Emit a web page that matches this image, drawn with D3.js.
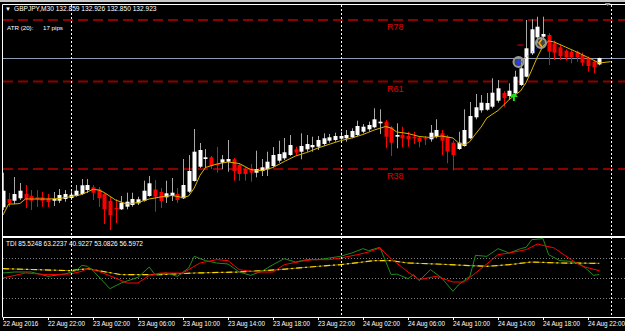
<!DOCTYPE html>
<html>
<head>
<meta charset="utf-8">
<script src="https://cdn.jsdelivr.net/npm/d3@7"></script>
<style>
body{margin:0;background:#000;}
svg{display:block;}
text{font-family:"Liberation Sans",Arial,sans-serif;fill:#fff;}
</style>
</head>
<body>
<svg id="chart" width="625" height="331"></svg>
<script>
// GBPJPY M30, first bar = 22 Aug 2016 18:00, one bar every 30 min
const opens = [131.430,131.513,131.496,131.520,131.563,131.543,131.530,131.530,131.516,131.496,
  131.496,131.513,131.523,131.543,131.563,131.603,131.630,131.610,131.563,131.493,
  131.423,131.410,131.436,131.453,131.470,131.496,131.543,131.608,131.583,131.530,
  131.543,131.563,131.520,131.586,131.693,131.836,131.913,131.930,131.863,131.876,
  131.886,131.910,131.853,131.813,131.803,131.776,131.793,131.810,131.843,131.896,
  131.920,131.953,132.010,131.986,132.010,132.030,132.036,132.063,132.096,132.103,
  132.116,132.120,132.130,132.153,132.186,132.210,132.230,132.270,132.286,132.230,
  132.136,132.153,132.143,132.136,132.126,132.120,132.110,132.136,132.170,132.136,
  132.076,132.013,132.043,132.120,132.330,132.400,132.406,132.436,132.496,132.573,
  132.543,132.570,132.653,132.736,132.970,133.130,133.136,133.153,133.070,133.030,
  132.996,132.986,132.986,132.953,132.920,132.886,132.859];
const highs = [131.776,131.573,131.733,131.673,131.653,131.603,131.603,131.583,131.563,131.583,
  131.613,131.603,131.603,131.653,131.713,131.713,131.653,131.633,131.573,131.533,
  131.513,131.543,131.576,131.576,131.536,131.696,131.743,131.703,131.623,131.696,
  131.723,131.623,131.913,131.953,132.213,132.073,132.013,131.943,132.033,131.953,
  132.103,131.923,131.873,131.833,131.863,131.996,131.913,131.986,132.033,132.096,
  132.123,132.153,132.036,132.170,132.153,132.136,132.143,132.170,132.163,132.176,
  132.186,132.203,132.220,132.296,132.263,132.286,132.420,132.410,132.303,132.243,
  132.270,132.236,132.186,132.186,132.143,132.143,132.253,132.310,132.203,132.153,
  132.098,132.186,132.410,132.483,132.563,132.553,132.573,132.720,132.703,132.593,
  132.670,132.796,132.930,133.303,133.310,133.336,133.336,133.170,133.096,133.053,
  133.010,133.003,132.996,132.976,132.936,132.903,132.926];
const lows = [131.403,131.433,131.463,131.503,131.423,131.403,131.433,131.436,131.433,131.443,
  131.473,131.486,131.503,131.536,131.553,131.573,131.503,131.433,131.263,131.203,
  131.273,131.403,131.410,131.436,131.453,131.486,131.536,131.386,131.423,131.473,
  131.493,131.473,131.513,131.573,131.686,131.823,131.823,131.813,131.776,131.813,
  131.786,131.696,131.696,131.696,131.686,131.730,131.743,131.743,131.830,131.876,
  131.903,131.943,131.953,131.910,131.986,131.986,132.003,132.043,132.076,132.086,
  132.096,132.086,132.120,132.143,132.170,132.186,132.220,132.163,132.020,131.943,
  132.020,132.030,132.036,132.063,132.030,132.053,132.086,132.120,131.953,131.870,
  131.798,132.003,132.036,132.110,132.310,132.376,132.396,132.420,132.476,132.436,
  132.503,132.536,132.643,132.730,132.953,133.070,133.103,132.853,132.903,132.903,
  132.896,132.870,132.886,132.843,132.786,132.770,132.850];
const closes = [131.596,131.473,131.563,131.596,131.510,131.496,131.510,131.496,131.483,131.513,
  131.553,131.563,131.556,131.596,131.650,131.653,131.576,131.520,131.410,131.350,
  131.410,131.476,131.486,131.513,131.510,131.596,131.670,131.536,131.493,131.570,
  131.576,131.503,131.653,131.793,131.986,132.003,131.930,131.843,131.850,131.910,
  131.913,131.793,131.763,131.763,131.776,131.813,131.830,131.886,131.953,131.963,
  131.980,132.053,131.976,132.043,132.063,132.053,132.103,132.120,132.130,132.143,
  132.143,132.153,132.193,132.243,132.236,132.253,132.310,132.286,132.136,132.076,
  132.153,132.120,132.110,132.120,132.086,132.110,132.176,132.203,132.096,131.988,
  131.953,132.076,132.203,132.343,132.430,132.476,132.473,132.576,132.620,132.523,
  132.596,132.736,132.820,133.020,133.210,133.236,133.163,132.986,132.976,132.943,
  132.930,132.930,132.930,132.876,132.843,132.830,132.923];

// yellow moving average, read at these bars
const maBars = [0,1,2,3,4,6,8,10,12,14,16,17,18,20,22,24,26,28,30,32,33,34,35,36,38,40,42,44,46,48,
  50,52,54,56,58,60,62,64,66,68,69,70,72,74,76,78,80,81,82,83,84,85,86,88,90,92,93,94,95,96,97,98,
  100,102,104,106,108];
const maValues = [131.353,131.463,131.463,131.468,131.513,131.513,131.513,131.518,131.536,131.558,
  131.610,131.603,131.578,131.503,131.463,131.478,131.513,131.533,131.548,131.528,131.543,131.623,
  131.748,131.828,131.863,131.883,131.868,131.808,131.796,131.828,131.888,131.943,131.978,132.023,
  132.060,132.096,132.123,132.158,132.203,132.238,132.223,132.183,132.168,132.138,132.128,132.143,
  132.123,132.073,132.053,132.088,132.163,132.233,132.323,132.398,132.508,132.593,132.678,132.803,
  132.933,133.043,133.093,133.083,133.033,132.983,132.928,132.873,132.886];

// fibo levels
const fibLabels = ["R78","R61","R38"];
const fibLevels = [133.303,132.688,131.813];

// TDI sub window
const rsiBars = [0,2,5,8,11,13,14,15,16,19,21,24,26,27,29,31,33,34,36,38,40,42,44,46,48,50,52,54,56,58,
  60,62,64,65,67,69,70,72,73,74,76,78,80,81,83,84,86,88,90,92,93,94,96,97,99,101,103,105,106];
const rsiValues = [54.5,55.4,55.4,51.5,53.6,56.6,61.4,60.5,56.6,40.4,45.5,50.6,59.9,53,54.5,51.5,59,69.5,
  65.6,63.5,62.6,55.4,52.4,56,62,67.4,64.4,66.5,66.5,68,69.5,72.5,76.4,74.6,77.6,53,53.6,49.4,53,47.6,
  57.5,50,38,44,51.5,70.4,69.5,76.4,72.5,76.4,77.6,84.5,85.4,71,65.6,65,61.4,52.4,53.08];
const sigBars = [0,4,8,12,14,15,17,20,22,24,26,28,32,35,38,40,42,45,48,50,53,55,58,60,63,65,67,69,72,74,
  77,80,82,84,86,88,90,93,95,98,101,103,106];
const sigValues = [50,54.5,53,53.6,56,58.4,56,50,45.5,45.5,52.4,54.5,54.5,63.5,66.5,65.6,57.5,55.4,55.4,
  62,65,66.5,66.5,68,71,73.4,77,67.4,55.4,48.5,51.5,46.4,46.4,54.5,62.6,71,72.5,75.5,80.6,77,66.5,60.5,56.6];
const mblBars = [0,6,12,15,21,28,34,42,49,56,60,66,69,72,77,82,86,90,94,99,106];
const mblValues = [58.4,57.5,56.6,58.4,53,53,54.5,55.4,57.5,60.5,62,65.6,65.6,63.5,62.6,61.4,60.5,62,64.4,63.5,63.2];
const tdiLevels = [32,50,68];

// time axis
const tickBars = [0,8,16,24,32,40,48,56,64,72,80,88,96,104];
const tickLabels = ["22 Aug 2016","22 Aug 22:00","23 Aug 02:00","23 Aug 06:00","23 Aug 10:00","23 Aug 14:00",
  "23 Aug 18:00","23 Aug 22:00","24 Aug 02:00","24 Aug 06:00","24 Aug 10:00","24 Aug 14:00","24 Aug 18:00",
  "24 Aug 22:00"];
const daySeparators = [12,60,108];

// trade history marks
const tradeBars = [92,96];
const tradePrices = [132.883,133.073];

var W = 625, H = 331;
var svg = d3.select("#chart");

var x = d3.scaleLinear().domain([0,106]).range([3,599.25]);
var y = d3.scaleLinear().domain([131.143,133.503]).range([236,0]);
var yT = d3.scaleLinear().domain([14.9,86.9]).range([317,237]);

svg.append("rect").attr("width",W).attr("height",H).attr("fill","#000");
svg.append("rect").attr("width",W).attr("height",2).attr("fill","#c8c8c8");

var defs = svg.append("defs");
defs.append("clipPath").attr("id","mainClip").append("rect")
  .attr("x",3).attr("y",5).attr("width",W-3).attr("height",231);
defs.append("clipPath").attr("id","tdiClip").append("rect")
  .attr("x",3).attr("y",238).attr("width",W-3).attr("height",79);

var main = svg.append("g").attr("clip-path","url(#mainClip)");
var tdi = svg.append("g").attr("clip-path","url(#tdiClip)");

// day separators
svg.append("g").selectAll("line")
  .data(daySeparators).join("line")
    .attr("x1",d => Math.round(x(d))+0.5).attr("x2",d => Math.round(x(d))+0.5)
    .attr("y1",5).attr("y2",317)
    .attr("stroke","#fff").attr("stroke-dasharray","2,2");

// fibo lines
main.append("g").selectAll("line")
  .data(fibLevels).join("line")
    .attr("x1",3).attr("x2",W)
    .attr("y1",d => y(d)).attr("y2",d => y(d))
    .attr("stroke","#8b0000").attr("stroke-width",2).attr("stroke-dasharray","10,5");
main.append("g").selectAll("text")
  .data(fibLevels).join("text")
    .attr("x",x(68)+1.5).attr("y",d => y(d)+10)
    .style("fill","#e00000").style("font-size","9px")
    .text((d,i) => fibLabels[i]);

// bid line
main.append("line")
  .attr("x1",3).attr("x2",W)
  .attr("y1",Math.round(y(closes[106]))+0.5).attr("y2",Math.round(y(closes[106]))+0.5)
  .attr("stroke","#8e9bb0");

// candles
var bars = d3.range(opens.length);
var candles = main.append("g");
candles.selectAll("line")
  .data(bars).join("line")
    .attr("x1",d => Math.round(x(d))+0.5).attr("x2",d => Math.round(x(d))+0.5)
    .attr("y1",d => y(highs[d])).attr("y2",d => y(lows[d]))
    .attr("stroke",d => closes[d] >= opens[d] ? "#a8a8a8" : "#ff0000");
candles.selectAll("rect")
  .data(bars).join("rect")
    .attr("x",d => Math.round(x(d))-1.5)
    .attr("y",d => y(Math.max(opens[d],closes[d])))
    .attr("width",4)
    .attr("height",d => Math.max(1,y(Math.min(opens[d],closes[d]))-y(Math.max(opens[d],closes[d]))))
    .attr("fill",d => closes[d] >= opens[d] ? "#fff" : "#ff0000");

// moving average
main.append("path")
  .datum(maBars)
  .attr("fill","none").attr("stroke","#d8b400").attr("stroke-width",1)
  .attr("d",d3.line().x(d => x(d)).y((d,i) => y(maValues[i])));

// trade marks
main.append("line")
  .attr("x1",x(tradeBars[0])).attr("y1",y(tradePrices[0]))
  .attr("x2",x(tradeBars[1])).attr("y2",y(tradePrices[1]))
  .attr("stroke","#2040ff").attr("stroke-dasharray","1,2");
main.append("g").selectAll("circle")
  .data(tradeBars).join("circle")
    .attr("cx",d => x(d)-2).attr("cy",(d,i) => y(tradePrices[i]))
    .attr("r",5).attr("fill","rgba(150,150,150,0.45)")
    .attr("stroke","#9a9a9a").attr("stroke-width",2);
main.append("path")
  .attr("d",`M${x(92)-5},${y(tradePrices[0])}h6M${x(92)-2},${y(tradePrices[0])-3}v6`)
  .attr("stroke","#2040ff").attr("stroke-width",1.5);
main.append("path")
  .attr("d",`M${x(96)-1},${y(tradePrices[1])-4}l-3,4l3,4`)
  .attr("fill","none").attr("stroke","#ffb000").attr("stroke-width",1.5);
main.append("line")
  .attr("x1",x(92)-3).attr("x2",x(92)+3)
  .attr("y1",y(133.053)).attr("y2",y(133.053))
  .attr("stroke","#e00000");
// green buy arrow
var ax = x(91)-1, ay = y(132.553);
main.append("path")
  .attr("d",`M${ax-4},${ay+2}Q${ax},${ay-5} ${ax+4},${ay+2}Z M${ax-1},${ay+2}h2v4h-2Z`)
  .attr("fill","#22dd22");

// TDI levels
tdi.append("g").selectAll("line")
  .data(tdiLevels).join("line")
    .attr("x1",3).attr("x2",W)
    .attr("y1",d => Math.round(yT(d))+0.5).attr("y2",d => Math.round(yT(d))+0.5)
    .attr("stroke","#808080").attr("stroke-dasharray","1,2");

tdi.append("path").datum(mblBars)
  .attr("fill","none").attr("stroke","#6e6400").attr("stroke-width",1)
  .attr("d",d3.line().x(d => x(d)).y((d,i) => yT(mblValues[i])));
tdi.append("path").datum(mblBars)
  .attr("fill","none").attr("stroke","#ffd700").attr("stroke-width",1.2)
  .attr("stroke-dasharray","6,3,2,3")
  .attr("d",d3.line().x(d => x(d)).y((d,i) => yT(mblValues[i])));
tdi.append("path").datum(rsiBars)
  .attr("fill","none").attr("stroke","#1e8c1e").attr("stroke-width",1)
  .attr("d",d3.line().x(d => x(d)).y((d,i) => yT(rsiValues[i])));
tdi.append("path").datum(sigBars)
  .attr("fill","none").attr("stroke","#ff0000").attr("stroke-width",1)
  .attr("d",d3.line().x(d => x(d)).y((d,i) => yT(sigValues[i])));

// frames
svg.append("path")
  .attr("d","M2.5,317V4.5H625M2.5,236.5H625M2.5,237.5H625")
  .attr("fill","none").attr("stroke","#fff");
svg.append("path")
  .attr("d",`M${x(107.5)-3},3h6l-3,3Z`).attr("fill","#9a9a9a");

// time axis
var axis = svg.append("g")
  .attr("transform","translate(0,317)")
  .call(d3.axisBottom(x).tickValues(tickBars).tickSize(3).tickFormat((d,i) => tickLabels[i]));
axis.select(".domain").attr("stroke","#fff").attr("d","M2.5,0.5H625");
axis.selectAll(".tick line").attr("stroke","#fff");
axis.selectAll(".tick text")
  .attr("text-anchor","start").attr("x",-0.5).attr("y",5).attr("dy","0.71em")
  .style("fill","#fff").style("font-size","6.3px")
  .style("font-family","'Liberation Sans',Arial,sans-serif");

// texts
svg.append("text").attr("x",5).attr("y",11).style("font-size","6px").text("\u25BC");
svg.append("text").attr("x",14).attr("y",11).style("font-size","6.6px")
  .text("GBPJPY,M30  132.859 132.926 132.850 132.923");
svg.append("text").attr("x",7).attr("y",30).style("font-size","6.2px").text("ATR (20):");
svg.append("text").attr("x",43).attr("y",30).style("font-size","6.2px").text("17 pips");
svg.append("text").attr("x",6).attr("y",246).style("font-size","6.5px")
  .text("TDI 85.5248 63.2237 40.9227 53.0826 56.5972");
</script>
</body>
</html>
